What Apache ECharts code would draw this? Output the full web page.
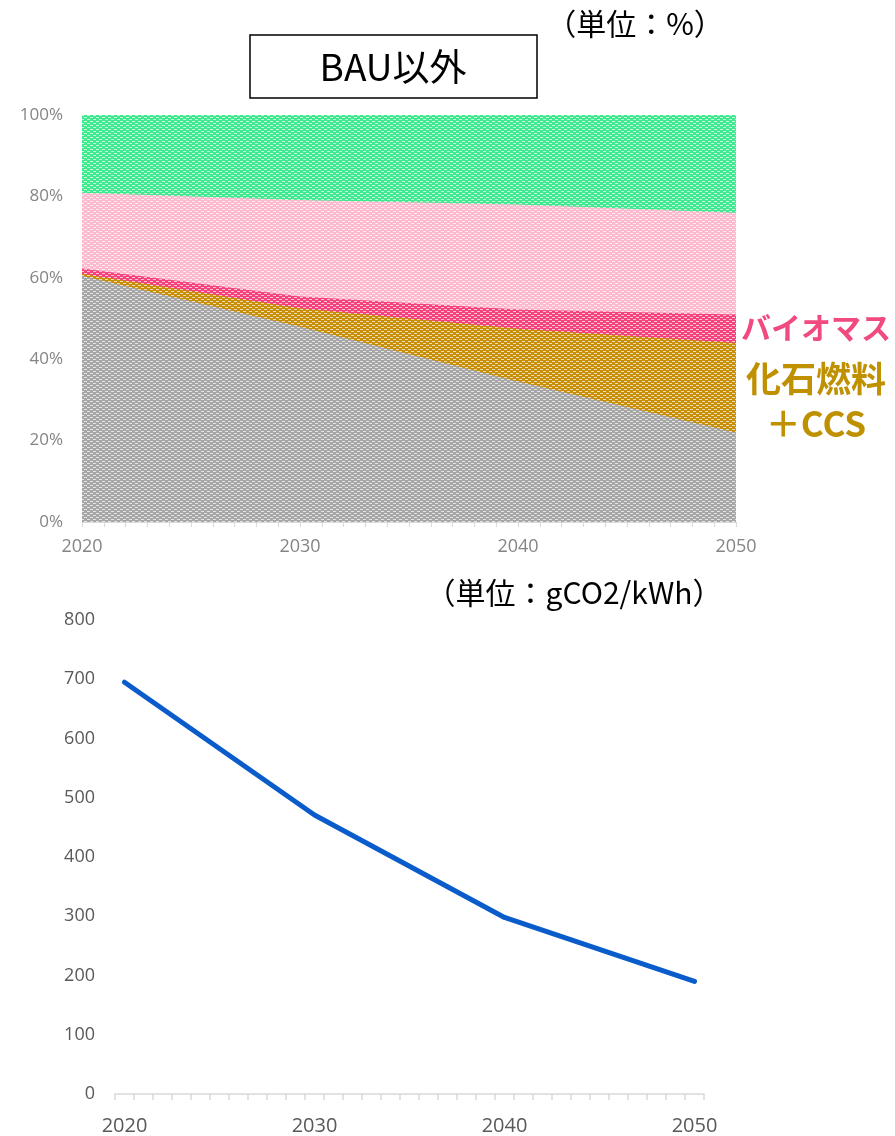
<!DOCTYPE html>
<html><head><meta charset="utf-8">
<script src="https://cdn.jsdelivr.net/npm/echarts@6/dist/echarts.min.js"></script>
<style>html,body{margin:0;padding:0;background:#fff}#c{width:895px;height:1136px}</style>
</head><body><div id="c"></div>
<script>
// ---- data ----
const shareYears = [2020, 2030, 2040, 2050];
const fossil    = [60.5, 48.0, 34.5, 22.0];   // gray
const fossilCCS = [0.5, 4.5, 13.0, 22.0];     // gold
const biomass   = [1.3, 2.9, 4.7, 7.0];       // dark pink
const seriesD   = [18.6, 23.7, 25.8, 25.0];   // light pink
const seriesE   = [19.1, 20.9, 22.0, 24.0];   // green
const shareTicks = [0, 20, 40, 60, 80, 100];

const co2Years  = [2020, 2030, 2040, 2050];
const co2Values = [695, 471, 298, 190];
const co2Ticks  = [0, 100, 200, 300, 400, 500, 600, 700, 800];

function pattern(color) {
  const c = document.createElement('canvas');
  c.width = 6; c.height = 4;
  const g = c.getContext('2d');
  g.fillStyle = color; g.fillRect(0, 0, 6, 4);
  g.fillStyle = 'rgba(255,255,255,0.7)';
  g.fillRect(0, 1, 3, 1);
  g.fillRect(3, 3, 3, 1);
  return { image: c, repeat: 'repeat' };
}
function pairs(xs, ys) { return xs.map((x, i) => [x, ys[i]]); }

const areaDefs = [
  { name: '化石燃料', data: fossil, color: '#A6A6A6' },
  { name: '化石燃料+CCS', data: fossilCCS, color: '#C88E06' },
  { name: 'バイオマス', data: biomass, color: '#F5427C' },
  { name: 'D', data: seriesD, color: '#FFB9CE' },
  { name: 'E', data: seriesE, color: '#3DEB8E' }
];
// cumulative tops (stack), drawn from the top layer down so lower layers overlay
let run = shareYears.map(() => 0);
areaDefs.forEach(d => { run = run.map((v, i) => v + d.data[i]); d.cum = run.slice(); });
const areaSeries = areaDefs.slice().reverse().map(d => ({
  name: d.name, type: 'line', xAxisIndex: 0, yAxisIndex: 0,
  data: pairs(shareYears, d.cum), showSymbol: false, symbol: 'none',
  lineStyle: { width: 0 }, areaStyle: { color: pattern(d.color), opacity: 1, origin: 'start' }
}));

const chart = echarts.init(document.getElementById('c'), null, { renderer: 'canvas' });
const yearTicks = [];
for (let y = 2019.5; y <= 2050.5; y += 1) yearTicks.push(y);

const option = {
  animation: false,
  grid: [
    { left: 82, right: 159, top: 115, bottom: 614 },
    { left: 115, right: 191, top: 620, bottom: 41 }
  ],
  xAxis: [
    {
      gridIndex: 0, type: 'value', min: 2020, max: 2050, interval: 10,
      axisLine: { show: true, lineStyle: { color: '#D9D9D9', width: 1 } },
      axisTick: { show: true, length: 5, lineStyle: { color: '#D9D9D9' } },
      minorTick: { show: true, splitNumber: 10, length: 5, lineStyle: { color: '#D9D9D9' } },
      splitLine: { show: false },
      axisLabel: { color: '#858585', fontSize: 18, fontFamily: 'Open Sans', margin: 16, formatter: v => String(v) }
    },
    {
      gridIndex: 1, type: 'value', min: 2019.5, max: 2050.5,
      axisLine: { show: true, lineStyle: { color: '#D9D9D9', width: 1.5 } },
      axisTick: { show: true, length: 6, customValues: yearTicks, lineStyle: { color: '#D9D9D9', width: 1.5 } },
      splitLine: { show: false },
      axisLabel: { color: '#595959', fontSize: 20, fontFamily: 'Open Sans', margin: 22, customValues: co2Years, formatter: v => String(v) }
    }
  ],
  yAxis: [
    {
      gridIndex: 0, type: 'value', min: 0, max: 100, interval: 20,
      axisLine: { show: false }, axisTick: { show: false }, splitLine: { show: false },
      axisLabel: { color: '#858585', fontSize: 17, fontFamily: 'Open Sans', margin: 19, formatter: '{value}%' }
    },
    {
      gridIndex: 1, type: 'value', min: 0, max: 800, interval: 100,
      axisLine: { show: false }, axisTick: { show: false }, splitLine: { show: false },
      axisLabel: { color: '#595959', fontSize: 18, fontFamily: 'Open Sans', margin: 20 }
    }
  ],
  series: areaSeries.concat([{
    name: 'CO2', type: 'line', xAxisIndex: 1, yAxisIndex: 1,
    data: pairs(co2Years, co2Values), showSymbol: false, symbol: 'none',
    lineStyle: { color: '#0A5CCB', width: 5, cap: 'round', join: 'round' }
  }]),
  graphic: [
    { type: 'rect', shape: { x: 250, y: 35, width: 287, height: 63 }, style: { fill: '#fff', stroke: '#000', lineWidth: 1.5 } },
    { type: 'text', x: 393, y: 67, style: { text: 'BAU以外', font: '37px "Noto Sans CJK JP"', fill: '#000', align: 'center', verticalAlign: 'middle' } },
    { type: 'text', x: 635, y: 24, style: { text: '（単位：%）', font: '30px "Noto Sans CJK JP"', fill: '#000', align: 'center', verticalAlign: 'middle' } },
    { type: 'text', x: 816, y: 328, style: { text: 'バイオマス', font: 'bold 30px "Noto Sans CJK JP"', fill: '#F04A7F', align: 'center', verticalAlign: 'middle' } },
    { type: 'text', x: 816, y: 379, style: { text: '化石燃料', font: 'bold 35px "Noto Sans CJK JP"', fill: '#BF9000', align: 'center', verticalAlign: 'middle' } },
    { type: 'text', x: 816, y: 424, style: { text: '＋CCS', font: 'bold 35px "Noto Sans CJK JP"', fill: '#BF9000', align: 'center', verticalAlign: 'middle' } },
    { type: 'text', x: 574, y: 593, style: { text: '（単位：gCO2/kWh）', font: '30px "Noto Sans CJK JP"', fill: '#000', align: 'center', verticalAlign: 'middle' } }
  ]
};
chart.setOption(option);
</script></body></html>
